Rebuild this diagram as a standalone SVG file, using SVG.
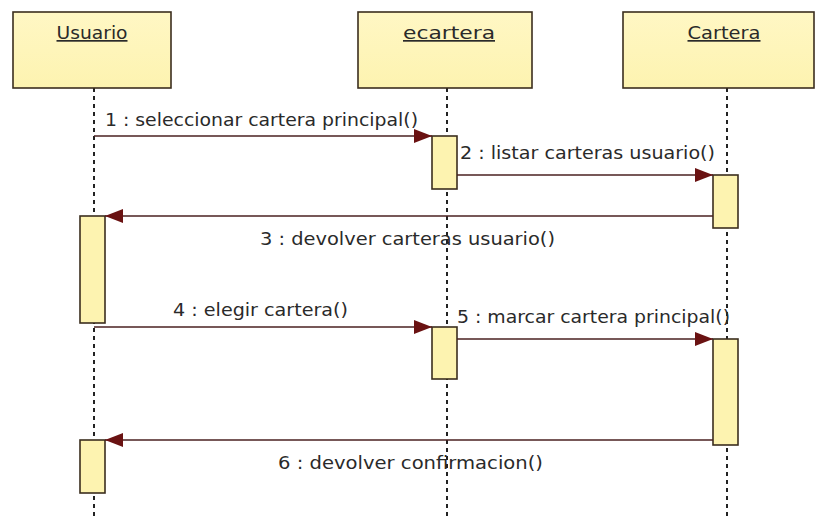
<svg xmlns="http://www.w3.org/2000/svg" width="816" height="519" viewBox="0 0 816 519">
  <defs>
    <marker id="arrow" viewBox="0 0 18 14" refX="18" refY="7" markerWidth="18" markerHeight="14" markerUnits="userSpaceOnUse" orient="auto">
      <path d="M0,0 L18,7 L0,14 Z" fill="#6a1212"/>
    </marker>
    <linearGradient id="fillY" x1="0" y1="0" x2="0" y2="1">
      <stop offset="0" stop-color="#fff7c4"/>
      <stop offset="1" stop-color="#fdf3b0"/>
    </linearGradient>
  </defs>
  <style>
    .head { fill: url(#fillY); stroke: #3b2e1e; stroke-width: 1.6; }
    .act { fill: #fdf3b0; stroke: #3b2e1e; stroke-width: 1.6; }
    .life { stroke: #222; stroke-width: 2; stroke-dasharray: 4 4; fill: none; }
    .msg { stroke: #4a2020; stroke-width: 1.6; fill: none; marker-end: url(#arrow); }
    .name { font-family: "DejaVu Sans", Verdana, sans-serif; font-size: 17px; fill: #2a2a2a; text-anchor: middle; text-decoration: underline; }
    .lbl { font-family: "DejaVu Sans", Verdana, sans-serif; font-size: 18px; fill: #2a2a2a; }
  </style>
  <rect width="816" height="519" fill="#ffffff"/>

  <!-- lifelines -->
  <g id="lifelines">
    <line class="life" x1="94" y1="88" x2="94" y2="519"/>
    <line class="life" x1="447" y1="88" x2="447" y2="519"/>
    <line class="life" x1="727" y1="88" x2="727" y2="519"/>
  </g>

  <!-- participants -->
  <g id="usuario">
    <rect class="head" x="13" y="12" width="158" height="76"/>
    <text class="name" x="92" y="39" textLength="71" lengthAdjust="spacingAndGlyphs">Usuario</text>
    <rect class="act" x="80" y="216" width="25" height="107"/>
    <rect class="act" x="80" y="440" width="25" height="53"/>
  </g>
  <g id="ecartera">
    <rect class="head" x="358" y="12" width="174" height="76"/>
    <text class="name" x="449" y="39" textLength="92" lengthAdjust="spacingAndGlyphs">ecartera</text>
    <rect class="act" x="432" y="136" width="25" height="53"/>
    <rect class="act" x="432" y="327" width="25" height="52"/>
  </g>
  <g id="cartera">
    <rect class="head" x="623" y="12" width="191" height="76"/>
    <text class="name" x="724" y="39" textLength="73" lengthAdjust="spacingAndGlyphs">Cartera</text>
    <rect class="act" x="713" y="175" width="25" height="53"/>
    <rect class="act" x="713" y="339" width="25" height="106"/>
  </g>

  <!-- messages -->
  <g id="connectors">
    <line class="msg" x1="94" y1="136" x2="432" y2="136"/>
    <line class="msg" x1="457" y1="175" x2="713" y2="175"/>
    <line class="msg" x1="713" y1="216" x2="105" y2="216"/>
    <line class="msg" x1="94" y1="327" x2="432" y2="327"/>
    <line class="msg" x1="457" y1="339" x2="713" y2="339"/>
    <line class="msg" x1="713" y1="440" x2="105" y2="440"/>
  </g>

  <g id="labels">
    <text class="lbl" x="105" y="126" textLength="313" lengthAdjust="spacingAndGlyphs">1 : seleccionar cartera principal()</text>
    <text class="lbl" x="460" y="159" textLength="255" lengthAdjust="spacingAndGlyphs">2 : listar carteras usuario()</text>
    <text class="lbl" x="260" y="245" textLength="295" lengthAdjust="spacingAndGlyphs">3 : devolver carteras usuario()</text>
    <text class="lbl" x="173" y="316" textLength="175" lengthAdjust="spacingAndGlyphs">4 : elegir cartera()</text>
    <text class="lbl" x="457" y="323" textLength="273" lengthAdjust="spacingAndGlyphs">5 : marcar cartera principal()</text>
    <text class="lbl" x="278" y="469" textLength="265" lengthAdjust="spacingAndGlyphs">6 : devolver confirmacion()</text>
  </g>
</svg>
